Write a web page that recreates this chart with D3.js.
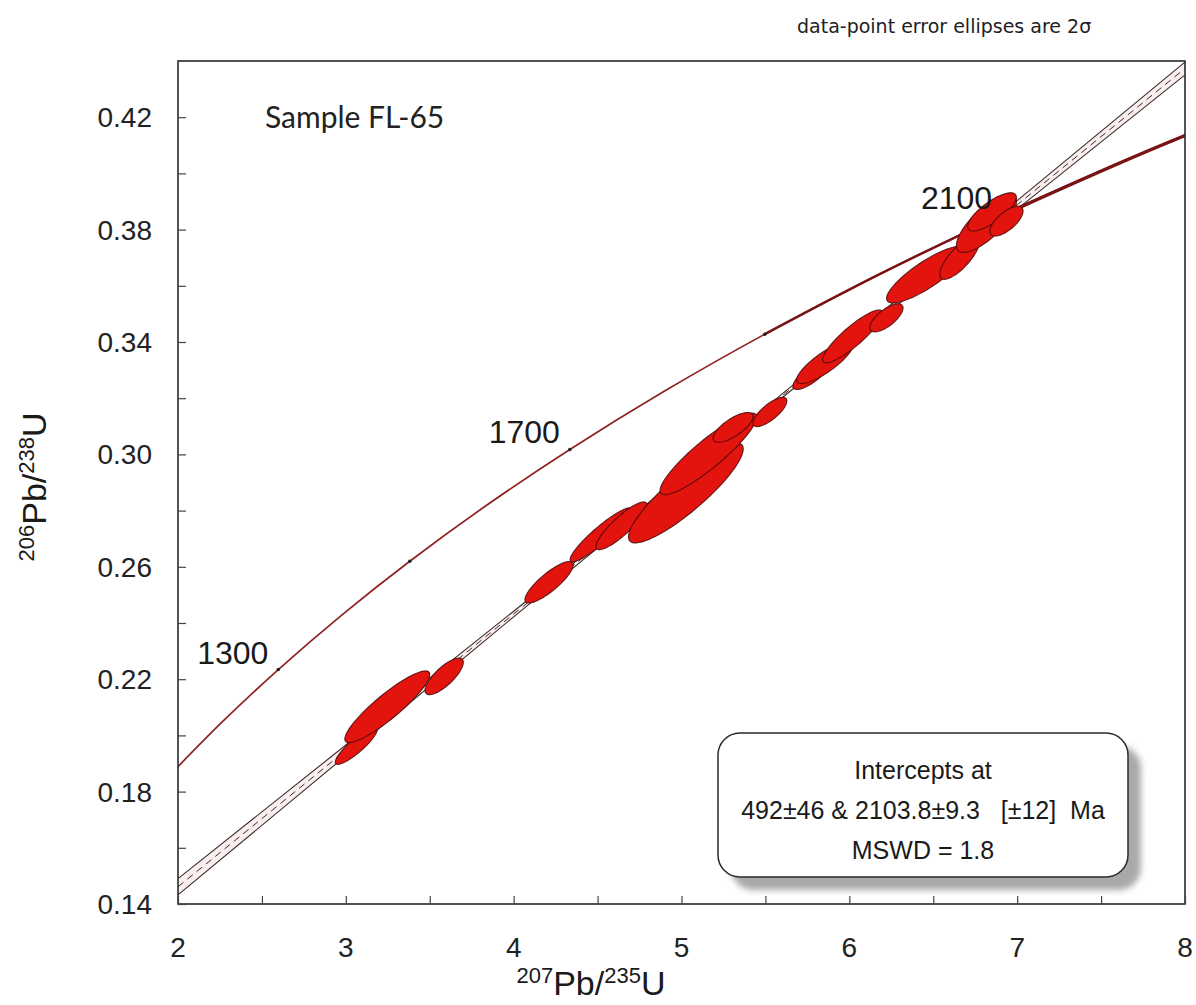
<!DOCTYPE html>
<html>
<head>
<meta charset="utf-8">
<script src="https://cdn.jsdelivr.net/npm/d3@7"></script>
<style>
  html, body { margin: 0; padding: 0; background: #fff; }
  svg { display: block; }
  text { white-space: pre; }
</style>
</head>
<body>
<svg id="chart" width="1196" height="1005"></svg>
<script>
// ---------------- data ----------------
const xTickValues = [2, 3, 4, 5, 6, 7, 8];
const xMinorTicks = [2.5, 3.5, 4.5, 5.5, 6.5, 7.5];
const yTickValues = [0.14, 0.18, 0.22, 0.26, 0.30, 0.34, 0.38, 0.42];
const yMinorTicks = [0.16, 0.20, 0.24, 0.28, 0.32, 0.36, 0.40];

// concordia curve (age in Ma, 207Pb/235U, 206Pb/238U)
const concordiaAges = [1100, 1200, 1300, 1400, 1500, 1600, 1700, 1800, 1900, 2000, 2100, 2200, 2300];
const concordiaX = [1.9545, 2.2603, 2.5977, 2.9701, 3.3810, 3.8344, 4.3348, 4.8869, 5.4962, 6.1685, 6.9105, 7.7292, 8.6326];
const concordiaY = [0.18606, 0.20460, 0.22343, 0.24256, 0.26199, 0.28172, 0.30175, 0.32211, 0.34277, 0.36377, 0.38509, 0.40674, 0.42873];
const markerAges = [1300, 1500, 1700, 1900, 2100];
const labelAges = [1300, 1700, 2100];

// discordia (regression line) with 2-sigma envelope
const discX = [2, 3, 4, 5, 6, 7, 8];
const discY = [0.14613, 0.19467, 0.24320, 0.29174, 0.34028, 0.38881, 0.43735];
const discHalf = [0.0029, 0.0019, 0.0010, 0.0005, 0.0008, 0.0015, 0.0023];

// data-point error ellipses (2 sigma)
const ellX   = [3.0625, 3.247, 3.586, 4.211, 4.521, 4.643, 5.026, 5.160, 5.307, 5.527, 5.774, 5.854, 6.020, 6.221, 6.460, 6.658, 6.817, 6.850, 6.936];
const ellY   = [0.1963, 0.2102, 0.2210, 0.2545, 0.2714, 0.2746, 0.2863, 0.3002, 0.3096, 0.3151, 0.3284, 0.3327, 0.3420, 0.3486, 0.3640, 0.3700, 0.3822, 0.3863, 0.3830];
const ellSX  = [0.125, 0.253, 0.114, 0.144, 0.185, 0.152, 0.342, 0.288, 0.119, 0.101, 0.110, 0.168, 0.179, 0.099, 0.238, 0.119, 0.179, 0.145, 0.099];
const ellSY  = [0.0066, 0.01275, 0.0065, 0.0074, 0.0096, 0.0085, 0.0178, 0.01455, 0.0053, 0.0052, 0.0053, 0.0075, 0.0094, 0.0050, 0.0101, 0.0077, 0.0103, 0.0068, 0.0053];
const ellRho = [0.88, 0.90, 0.77, 0.84, 0.92, 0.87, 0.88, 0.90, 0.73, 0.76, 0.78, 0.83, 0.88, 0.70, 0.84, 0.77, 0.76, 0.77, 0.68];

const sampleLabel = "Sample FL-65";
const noteLabel = "data-point error ellipses are 2\u03C3";
const boxLines = ["Intercepts at", "492\u00B146 & 2103.8\u00B19.3   [\u00B112]  Ma", "MSWD = 1.8"];

// ---------------- drawing ----------------
const svg = d3.select("#chart");
const L = 178, R = 1185, T = 61, B = 904;

const x = d3.scaleLinear().domain([2, 8]).range([L, R]);
const y = d3.scaleLinear().domain([0.14, 0.44]).range([B, T]);

const defs = svg.append("defs");
defs.append("clipPath").attr("id", "plotclip")
  .append("rect").attr("x", L).attr("y", T).attr("width", R - L).attr("height", B - T);
const blur = defs.append("filter").attr("id", "shadowblur").attr("x", "-10%").attr("y", "-10%").attr("width", "120%").attr("height", "130%");
blur.append("feGaussianBlur").attr("stdDeviation", 3);

const plot = svg.append("g").attr("clip-path", "url(#plotclip)");

// discordia envelope
const envPts = discX.map((d, i) => ({x: d, yc: discY[i], yu: discY[i] + discHalf[i], yl: discY[i] - discHalf[i]}));
const areaEnv = d3.area().x(d => x(d.x)).y0(d => y(d.yl)).y1(d => y(d.yu)).curve(d3.curveNatural);
const lineU = d3.line().x(d => x(d.x)).y(d => y(d.yu)).curve(d3.curveNatural);
const lineL = d3.line().x(d => x(d.x)).y(d => y(d.yl)).curve(d3.curveNatural);
const lineC = d3.line().x(d => x(d.x)).y(d => y(d.yc));
plot.append("path").attr("d", areaEnv(envPts)).attr("fill", "#fbeeee");
plot.append("path").attr("d", lineU(envPts)).attr("fill", "none").attr("stroke", "#3a2a2a").attr("stroke-width", 1.1);
plot.append("path").attr("d", lineL(envPts)).attr("fill", "none").attr("stroke", "#3a2a2a").attr("stroke-width", 1.1);
plot.append("path").attr("d", lineC(envPts)).attr("fill", "none").attr("stroke", "#3a2a2a").attr("stroke-width", 1).attr("stroke-dasharray", "7,5");

// concordia curve (thickening with age like the decay-constant band)
const conc = concordiaAges.map((a, i) => ({age: a, x: concordiaX[i], y: concordiaY[i]}));
const concLine = d3.line().x(d => x(d.x)).y(d => y(d.y)).curve(d3.curveCatmullRom);
plot.append("path").attr("d", concLine(conc)).attr("fill", "none")
  .attr("stroke", "#8e2222").attr("stroke-width", 1.7);
plot.append("path").attr("d", concLine(conc.filter(d => d.age >= 1900))).attr("fill", "none")
  .attr("stroke", "#7a1414").attr("stroke-width", 2.5);
plot.append("path").attr("d", concLine(conc.filter(d => d.age >= 2100))).attr("fill", "none")
  .attr("stroke", "#7a1414").attr("stroke-width", 3.4);

// age markers
const markers = conc.filter(d => markerAges.includes(d.age));
plot.selectAll("circle.marker").data(markers).join("circle")
  .attr("class", "marker").attr("cx", d => x(d.x)).attr("cy", d => y(d.y)).attr("r", 1.8)
  .attr("fill", "#222");

// ellipses
const ellipses = ellX.map((d, i) => ({cx: d, cy: ellY[i], sx: ellSX[i], sy: ellSY[i], rho: ellRho[i]}));
const thetas = d3.range(0, 72).map(k => k * 2 * Math.PI / 72);
const ellLine = d3.line().x(p => x(p[0])).y(p => y(p[1])).curve(d3.curveLinearClosed);
function ellipsePts(e) {
  const s = Math.sqrt(1 - e.rho * e.rho);
  return thetas.map(t => [e.cx + e.sx * Math.cos(t), e.cy + e.sy * (e.rho * Math.cos(t) + s * Math.sin(t))]);
}
plot.selectAll("path.ell").data(ellipses).join("path")
  .attr("class", "ell").attr("d", e => ellLine(ellipsePts(e)))
  .attr("fill", "#e3140e").attr("stroke", "#4a0808").attr("stroke-width", 1.1).attr("stroke-opacity", 0.85);

// age labels
svg.selectAll("text.agelab").data(conc.filter(d => labelAges.includes(d.age))).join("text")
  .attr("class", "agelab").attr("x", d => x(d.x) - 10).attr("y", d => y(d.y) - 6)
  .attr("text-anchor", "end").attr("font-family", "Liberation Sans, Arial, sans-serif")
  .attr("font-size", 32).attr("fill", "#1a1a1a").text(d => d.age);

// frame
svg.append("rect").attr("x", L).attr("y", T).attr("width", R - L).attr("height", B - T)
  .attr("fill", "none").attr("stroke", "#2a2a2a").attr("stroke-width", 1.6);

// axes (ticks inward)
const yAxis = d3.axisRight(y).tickValues(yTickValues.concat(yMinorTicks)).tickSize(8).tickFormat("");
const gy = svg.append("g").attr("transform", `translate(${L},0)`).call(yAxis);
gy.select(".domain").remove();
gy.selectAll("line").attr("stroke", "#444").attr("stroke-width", 1.2);

const xAxis = d3.axisTop(x).tickValues(xTickValues.concat(xMinorTicks)).tickSize(8).tickFormat("");
const gx = svg.append("g").attr("transform", `translate(0,${B})`).call(xAxis);
gx.select(".domain").remove();
gx.selectAll("line").attr("stroke", "#444").attr("stroke-width", 1.2);

// tick labels
svg.selectAll("text.ylab").data(yTickValues).join("text")
  .attr("class", "ylab").attr("x", 152).attr("y", d => y(d)).attr("dy", "0.36em")
  .attr("text-anchor", "end").attr("font-family", "Liberation Sans, Arial, sans-serif")
  .attr("font-size", 28).attr("fill", "#222").text(d => d3.format(".2f")(d));
svg.selectAll("text.xlab").data(xTickValues).join("text")
  .attr("class", "xlab").attr("x", d => x(d)).attr("y", 957)
  .attr("text-anchor", "middle").attr("font-family", "Liberation Sans, Arial, sans-serif")
  .attr("font-size", 28).attr("fill", "#222").text(d => d);

// axis titles
function isoTitle(sel, supA, supB) {
  sel.append("tspan").attr("font-size", 22).attr("baseline-shift", "55%").text(supA);
  sel.append("tspan").attr("font-size", 34).text("Pb/");
  sel.append("tspan").attr("font-size", 22).attr("baseline-shift", "55%").text(supB);
  sel.append("tspan").attr("font-size", 34).text("U");
}
const xt = svg.append("text").attr("x", 591).attr("y", 995).attr("text-anchor", "middle")
  .attr("font-family", "Liberation Sans, Arial, sans-serif").attr("fill", "#1a1a1a");
isoTitle(xt, "207", "235");
const yt = svg.append("text").attr("transform", "translate(46,487) rotate(-90)").attr("text-anchor", "middle")
  .attr("font-family", "Liberation Sans, Arial, sans-serif").attr("fill", "#1a1a1a");
isoTitle(yt, "206", "238");

// sample label & note
svg.append("text").attr("x", 265).attr("y", 128).attr("font-family", "Lato, Open Sans, sans-serif")
  .attr("font-size", 30).attr("fill", "#222").text(sampleLabel);
svg.append("text").attr("x", 797).attr("y", 33).attr("font-family", "DejaVu Sans, sans-serif")
  .attr("font-size", 19).attr("fill", "#222").text(noteLabel);

// intercept box
const bx = 718, by = 733, bw = 410, bh = 144;
svg.append("rect").attr("x", bx + 13).attr("y", by + 13).attr("width", bw).attr("height", bh)
  .attr("rx", 22).attr("fill", "#a9a9a9").attr("filter", "url(#shadowblur)");
svg.append("rect").attr("x", bx).attr("y", by).attr("width", bw).attr("height", bh)
  .attr("rx", 22).attr("fill", "#fff").attr("stroke", "#2a2a2a").attr("stroke-width", 1.5);
svg.selectAll("text.boxline").data(boxLines).join("text")
  .attr("class", "boxline").attr("x", bx + bw / 2).attr("y", (d, i) => 779 + i * 40)
  .attr("text-anchor", "middle").attr("font-family", "Liberation Sans, Arial, sans-serif")
  .attr("font-size", 25).attr("fill", "#1a1a1a").text(d => d);
</script>
</body>
</html>
